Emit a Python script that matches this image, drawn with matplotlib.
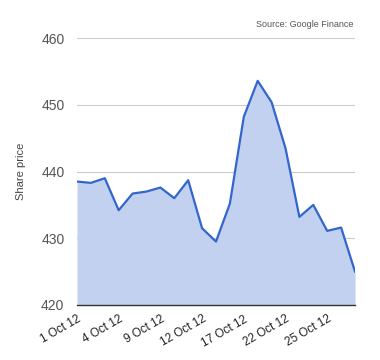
import matplotlib
matplotlib.use("Agg")
import matplotlib.pyplot as plt
import matplotlib.transforms as mtransforms

plt.rcParams['font.family'] = ['Liberation Sans', 'DejaVu Sans']

# closing prices, October 2012 trading days
dates = ['1 Oct 12', '2 Oct 12', '3 Oct 12', '4 Oct 12', '5 Oct 12', '8 Oct 12', '9 Oct 12',
         '10 Oct 12', '11 Oct 12', '12 Oct 12', '15 Oct 12', '16 Oct 12', '17 Oct 12',
         '18 Oct 12', '19 Oct 12', '22 Oct 12', '23 Oct 12', '24 Oct 12', '25 Oct 12',
         '26 Oct 12', '31 Oct 12']
prices = [438.5, 438.3, 439.0, 434.2, 436.7, 437.0, 437.6, 436.0, 438.7, 431.5, 429.5,
          435.2, 448.2, 453.6, 450.4, 443.5, 433.2, 435.0, 431.1, 431.6, 425.0]
yticks = [420, 430, 440, 450, 460]

fig = plt.figure(figsize=(3.8, 3.6), dpi=100)
ax = fig.add_axes([0.2026, 0.153, 0.7316, 0.741])

x = list(range(len(prices)))
ax.fill_between(x, prices, 420, color='#c2d1ef', linewidth=0)
ax.plot(x, prices, color='#3366cc', linewidth=1.6, solid_joinstyle='round')

ax.set_xlim(0, len(prices) - 1)
ax.set_ylim(420, 460)
ax.set_yticks(yticks)
ax.set_yticklabels([str(v) for v in yticks])
ax.yaxis.grid(True, color='#cccccc', linewidth=0.8)
ax.set_axisbelow(True)

ax.set_xticks(x[::3])
ax.set_xticklabels(dates[::3], rotation=30, ha='right', va='top', rotation_mode='anchor')
shift = mtransforms.ScaledTranslation(4 / 100, 0, fig.dpi_scale_trans)
for lbl in ax.get_xticklabels():
    lbl.set_transform(lbl.get_transform() + shift)

for s in ['top', 'right', 'left']:
    ax.spines[s].set_visible(False)
ax.spines['bottom'].set_color('#333333')
ax.spines['bottom'].set_linewidth(1.0)
ax.spines['bottom'].set_zorder(5)

ax.tick_params(axis='y', length=0, pad=9, labelsize=10, labelcolor='#555555')
ax.tick_params(axis='x', length=0, pad=6, labelsize=8.5, labelcolor='#222222')

ax.set_ylabel('Share price', fontsize=8, color='#444444', labelpad=11)
fig.text(0.93, 0.925, 'Source: Google Finance', fontsize=6.5, color='#555555', ha='right')

fig.savefig('out.png', dpi=100)
